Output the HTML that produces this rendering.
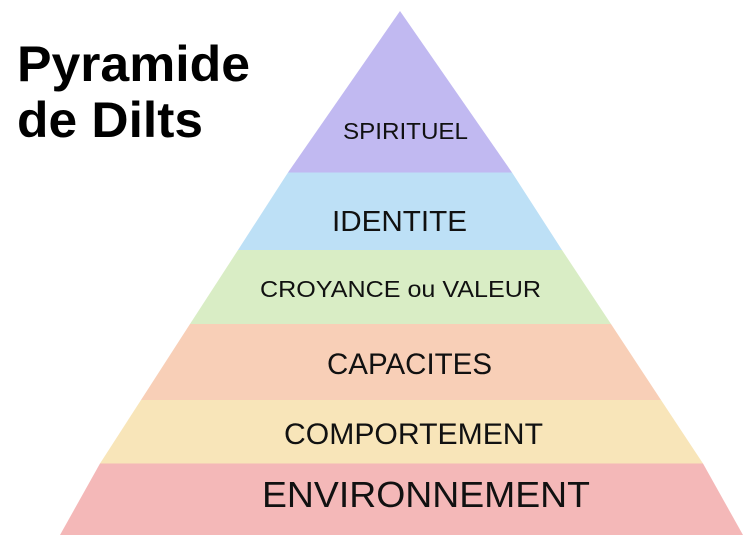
<!DOCTYPE html>
<html><head><meta charset="utf-8"><style>
html,body{margin:0;padding:0;background:#fff;width:750px;height:541px;overflow:hidden}
</style></head><body>
<svg width="750" height="541" viewBox="0 0 750 541" xmlns="http://www.w3.org/2000/svg">
<rect width="750" height="541" fill="#fff"/>
<polygon points="400,11 512,172.5 288,172.5" fill="#c1b9f1"/>
<polygon points="288,172.5 512,172.5 562,250 238,250" fill="#bde0f6"/>
<polygon points="238,250 562,250 611,324 190,324" fill="#d9edc5"/>
<polygon points="190,324 611,324 661,400 141,400" fill="#f8cfb7"/>
<polygon points="141,400 661,400 703,463.5 100,463.5" fill="#f8e5b9"/>
<polygon points="100,463.5 703,463.5 743,535 60,535" fill="#f4b8b8"/>
<g font-family="Liberation Sans, sans-serif" font-weight="bold" fill="#000">
<text x="17" y="81" font-size="50" textLength="233" lengthAdjust="spacingAndGlyphs">Pyramide</text>
<text x="17" y="137" font-size="50" textLength="186" lengthAdjust="spacingAndGlyphs">de Dilts</text>
</g>
<g font-family="Liberation Sans, sans-serif" fill="#111">
<text x="343" y="139" font-size="23" textLength="125" lengthAdjust="spacingAndGlyphs">SPIRITUEL</text>
<text x="332" y="231" font-size="29" textLength="135" lengthAdjust="spacingAndGlyphs">IDENTITE</text>
<text x="260" y="297" font-size="23" textLength="281" lengthAdjust="spacingAndGlyphs">CROYANCE ou VALEUR</text>
<text x="327" y="374" font-size="30" textLength="165" lengthAdjust="spacingAndGlyphs">CAPACITES</text>
<text x="284" y="444" font-size="30" textLength="259" lengthAdjust="spacingAndGlyphs">COMPORTEMENT</text>
<text x="262" y="507" font-size="36" textLength="328" lengthAdjust="spacingAndGlyphs">ENVIRONNEMENT</text>
</g>
</svg>
</body></html>
